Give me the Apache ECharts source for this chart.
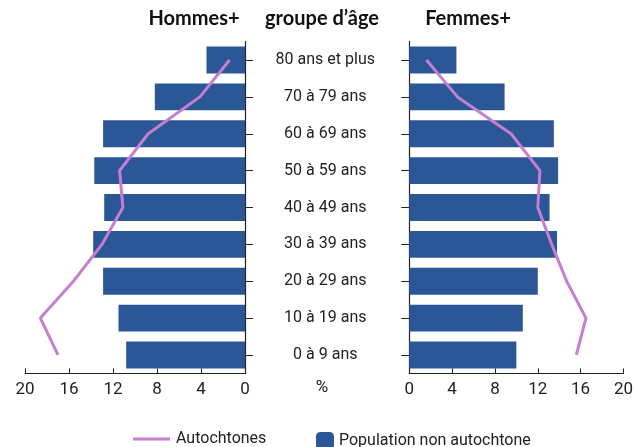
<!DOCTYPE html>
<html><head><meta charset="utf-8">
<script src="https://cdn.jsdelivr.net/npm/echarts@6/dist/echarts.min.js"></script>
<style>html,body{margin:0;padding:0;background:#fff}#c{width:636px;height:447px}</style>
</head><body><div id="c"></div>
<script>
const categories = ['0 à 9 ans','10 à 19 ans','20 à 29 ans','30 à 39 ans','40 à 49 ans','50 à 59 ans','60 à 69 ans','70 à 79 ans','80 ans et plus'];
const hommesNonAuto = [10.8, 11.5, 12.9, 13.8, 12.8, 13.7, 12.9, 8.2, 3.5];
const hommesAuto = [17.0, 18.6, 15.6, 13.0, 11.1, 11.4, 8.8, 4.1, 1.4];
const femmesNonAuto = [10.0, 10.6, 12.0, 13.8, 13.1, 13.9, 13.5, 8.9, 4.4];
const femmesAuto = [15.6, 16.5, 14.7, 13.3, 12.0, 12.2, 9.5, 4.5, 1.6];
const xTicks = [0, 4, 8, 12, 16, 20];

const NARROW = 'Roboto, sans-serif';
const BLUE = '#2B5797';
const PURPLE = '#C47FD2';
const chart = echarts.init(document.getElementById('c'), null, {renderer:'canvas'});
const xAxisCommon = {
  type:'value', min:xTicks[0], max:xTicks[xTicks.length-1], interval:4,
  axisLine:{show:true, lineStyle:{color:'#222', width:1.2}},
  axisTick:{show:true, inside:true, length:5, lineStyle:{color:'#222'}},
  axisLabel:{color:'#222', fontSize:17, fontFamily:NARROW, margin:8},
  splitLine:{show:false}
};
const yCommon = {
  type:'category', data:categories,
  axisLine:{show:true, lineStyle:{color:'#222', width:1.2}},
  axisTick:{show:true, alignWithLabel:true, length:8, lineStyle:{color:'#222'}},
  splitLine:{show:false}
};
chart.setOption({
  animation:false,
  grid:[
    {left:25, width:220, top:41.6, height:331.8},
    {left:409.3, width:220, top:41.6, height:331.8}
  ],
  xAxis:[
    Object.assign({gridIndex:0, inverse:true}, xAxisCommon),
    Object.assign({gridIndex:1}, xAxisCommon)
  ],
  yAxis:[
    Object.assign({gridIndex:0, position:'right', axisLabel:{show:false}}, yCommon),
    Object.assign({gridIndex:1, position:'left', axisLabel:{show:true, align:'center', margin:84, color:'#222', fontSize:16, fontFamily:NARROW}}, yCommon)
  ],
  legend:[
    {data:[{name:'Autochtones', icon:'rect', itemStyle:{color:PURPLE}}], left:128, top:426, itemWidth:37, itemHeight:3, itemGap:10,
     textStyle:{fontSize:16, fontFamily:NARROW, color:'#222', padding:[0,0,0,1]}},
    {data:['Population non autochtone'], left:311, top:427, itemWidth:18, itemHeight:18, itemGap:8,
     textStyle:{fontSize:16, fontFamily:NARROW, color:'#222'}}
  ],
  series:[
    {name:'Population non autochtone', type:'bar', xAxisIndex:0, yAxisIndex:0, data:hommesNonAuto, barCategoryGap:'27%', itemStyle:{color:BLUE}},
    {name:'Population non autochtone', type:'bar', xAxisIndex:1, yAxisIndex:1, data:femmesNonAuto, barCategoryGap:'27%', itemStyle:{color:BLUE}},
    {name:'Autochtones', type:'line', xAxisIndex:0, yAxisIndex:0, data:hommesAuto, symbol:'none', lineStyle:{color:PURPLE, width:3}, itemStyle:{color:PURPLE}, z:5},
    {name:'Autochtones', type:'line', xAxisIndex:1, yAxisIndex:1, data:femmesAuto, symbol:'none', lineStyle:{color:PURPLE, width:3}, itemStyle:{color:PURPLE}, z:5}
  ],
  graphic:[
    {type:'text', x:194, y:19, style:{text:'Hommes+', font:'bold 20px Lato', fill:'#111', align:'center', verticalAlign:'middle'}},
    {type:'text', x:322, y:19, style:{text:'groupe d’âge', font:'bold 20px Lato', fill:'#111', align:'center', verticalAlign:'middle'}},
    {type:'text', x:468, y:19, style:{text:'Femmes+', font:'bold 20px Lato', fill:'#111', align:'center', verticalAlign:'middle'}},
    {type:'text', x:322, y:388, style:{text:'%', font:'17px ' + NARROW, fill:'#222', align:'center', verticalAlign:'middle'}}
  ]
});
</script></body></html>
